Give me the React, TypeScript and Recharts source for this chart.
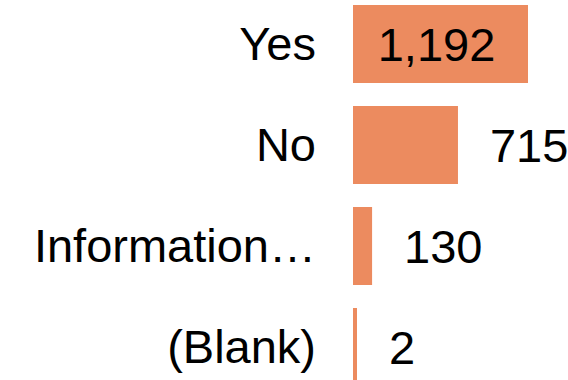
import React from "react";
import { BarChart, Bar, XAxis, YAxis, LabelList } from "recharts";

const categories = ["Yes", "No", "Information…", "(Blank)"];
const counts = [1192, 715, 130, 2];

const data = categories.map((name, i) => ({ name, count: counts[i] }));

const FONT = "'Liberation Sans', Arial, sans-serif";
const FONT_SIZE = 47;
const BAR_COLOR = "#EC8B5F";

// label goes inside the bar (centred) when it fits, otherwise just past the end
const ValueLabel = (props: any) => {
  const { x, y, width, height, value } = props;
  const text = Number(value).toLocaleString("en-US");
  const textWidth = text.replace(/,/g, "").length * 0.556 * FONT_SIZE + (text.includes(",") ? 0.278 * FONT_SIZE : 0);
  const fits = width >= textWidth + 40;
  const cy = y + height / 2;
  return (
    <text
      x={fits ? x + width / 2 - 4 : x + width + 32}
      y={cy}
      dy="0.355em"
      textAnchor={fits ? "middle" : "start"}
      fontFamily={FONT}
      fontSize={FONT_SIZE}
      fill="#000"
    >
      {text}
    </text>
  );
};

export default function App() {
  return (
    <div style={{ position: "absolute", left: 0, top: -7, width: 568, height: 404 }}>
      <BarChart
        width={568}
        height={404}
        data={data}
        layout="vertical"
        margin={{ top: 0, right: 40, bottom: 0, left: 0 }}
        barSize={78}
      >
        <XAxis type="number" hide domain={[0, 1192]} />
        <YAxis
          type="category"
          dataKey="name"
          width={353}
          axisLine={false}
          tickLine={false}
          tickSize={0}
          tickMargin={37}
          interval={0}
          tick={{ fill: "#000", fontSize: FONT_SIZE, fontFamily: FONT }}
        />
        <Bar dataKey="count" fill={BAR_COLOR} minPointSize={4} isAnimationActive={false}>
          <LabelList dataKey="count" content={ValueLabel} />
        </Bar>
      </BarChart>
    </div>
  );
}
